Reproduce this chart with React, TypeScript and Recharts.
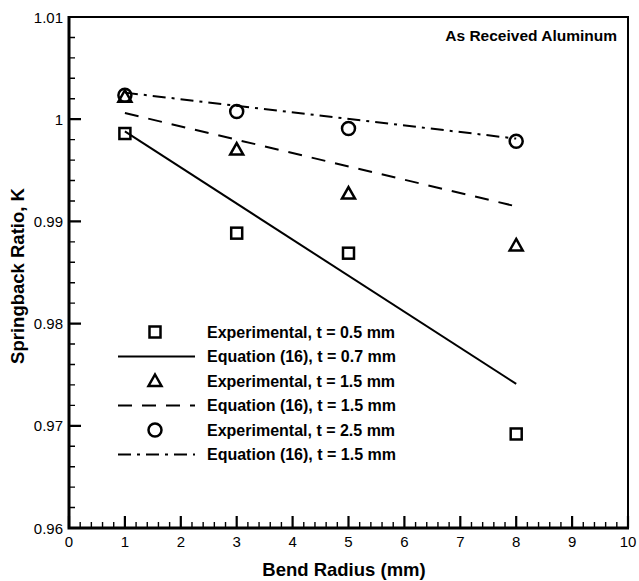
import React from 'react';
import { ComposedChart, Line, XAxis, YAxis, Customized } from 'recharts';

const radiiExp = [1, 3, 5, 8];
const expT05 = [0.9986, 0.98885, 0.98689, 0.9692];
const expT15 = [1.0022, 0.99703, 0.99272, 0.98765];
const expT25 = [1.00235, 1.00075, 0.99909, 0.99784];
const radiiEq = [1, 8];
const eqT07 = [0.9988, 0.9741];
const eqT15 = [1.0006, 0.99147];
const eqT15b = [1.0026, 0.9981];

const xTickLabels = ['0', '1', '2', '3', '4', '5', '6', '7', '8', '9', '10'];
const yTickLabels = ['0.96', '0.97', '0.98', '0.99', '1', '1.01'];
const yMajor = [0.96, 0.97, 0.98, 0.99, 1, 1.01];

const legendLabels = [
  'Experimental, t = 0.5 mm',
  'Equation (16), t = 0.7 mm',
  'Experimental, t = 1.5 mm',
  'Equation (16), t = 1.5 mm',
  'Experimental, t = 2.5 mm',
  'Equation (16), t = 1.5 mm',
];
const annotation = 'As Received Aluminum';
const xTitle = 'Bend Radius (mm)';
const yTitle = 'Springback Ratio, K';

const X_MIN = 0;
const X_MAX = 10;
const Y_MIN = 0.96;
const Y_MAX = 1.01;

const xTicks: number[] = [];
for (let i = 0; i <= 50; i++) xTicks.push(Math.round(i * 2) / 10);
const yTicks: number[] = [];
for (let i = 0; i <= 25; i++) yTicks.push(Math.round((0.96 + i * 0.002) * 1000) / 1000);

const pts = (xs: number[], ys: number[]) => xs.map((x, i) => ({ x, y: ys[i] }));

const FONT = '"Liberation Sans", Arial, Helvetica, sans-serif';
const M = 8;

const W = 639;
const H = 581;
const MARGIN = { top: 17, right: 11, bottom: 5, left: 15 };
const Y_AXIS_W = 54;
const X_AXIS_H = 48;
const PL = MARGIN.left + Y_AXIS_W;
const PR = W - MARGIN.right;
const PT = MARGIN.top;
const PB = H - MARGIN.bottom - X_AXIS_H;

const isXMajor = (v: number) => Math.abs(v - Math.round(v)) < 1e-6;
const yMajorIdx = (v: number) => yMajor.findIndex((m) => Math.abs(m - v) < 1e-6);

const XTick = (props: any) => {
  const { x, y, payload } = props;
  const v = payload.value;
  if (!isXMajor(v)) return <g />;
  const ay = y - M;
  return (
    <text x={x} y={ay + 19} textAnchor="middle" fontSize={15} fontFamily={FONT} fill="#000000">
      {xTickLabels[Math.round(v)]}
    </text>
  );
};

const YTick = (props: any) => {
  const { x, y, payload } = props;
  const idx = yMajorIdx(payload.value);
  if (idx < 0) return <g />;
  const ax = x + M;
  return (
    <text x={ax - 6} y={y + 5.5} textAnchor="end" fontSize={15} fontFamily={FONT} fill="#000000">
      {yTickLabels[idx]}
    </text>
  );
};

const SquareShape = (p: any) =>
  p.cx == null ? <g /> : (
    <rect x={p.cx - 5.5} y={p.cy - 5.5} width={11} height={11} fill="none" stroke="#000000" strokeWidth={2.5} />
  );
const TriShape = (p: any) =>
  p.cx == null ? <g /> : (
    <polygon
      points={`${p.cx},${p.cy - 6.5} ${p.cx + 6.5},${p.cy + 5} ${p.cx - 6.5},${p.cy + 5}`}
      fill="none"
      stroke="#000000"
      strokeWidth={2.5}
    />
  );
const CircShape = (p: any) =>
  p.cx == null ? <g /> : <circle cx={p.cx} cy={p.cy} r={6.5} fill="none" stroke="#000000" strokeWidth={2.5} />;

const DASH = '14 10';
const DASHDOT = '13 6 3 6';

const FrameAndTicks = () => {
  const sx = (v: number) => PL + ((v - X_MIN) / (X_MAX - X_MIN)) * (PR - PL);
  const sy = (v: number) => PB - ((v - Y_MIN) / (Y_MAX - Y_MIN)) * (PB - PT);
  let majorPath = '';
  let minorPath = '';
  xTicks.forEach((v) => {
    const px = sx(v);
    if (isXMajor(v)) majorPath += `M${px},${PB}V${PB - 12}`;
    else minorPath += `M${px},${PB}V${PB - 6}`;
  });
  yTicks.forEach((v) => {
    const py = sy(v);
    if (yMajorIdx(v) >= 0) majorPath += `M${PL},${py}H${PL + 12}`;
    else minorPath += `M${PL},${py}H${PL + 6}`;
  });
  return (
    <g>
      <path d={minorPath} stroke="#000000" strokeWidth={1.4} fill="none" />
      <path d={majorPath} stroke="#000000" strokeWidth={2.2} fill="none" />
      <rect x={PL} y={PT} width={PR - PL} height={PB - PT} fill="none" stroke="#000000" strokeWidth={2} />
      <path d={`M${PL},${PT - 1}V${PB}H${PR + 1}`} stroke="#000000" strokeWidth={3} fill="none" />
    </g>
  );
};

const Annotations = () => {
  const rowY = [332, 356.5, 381, 405.5, 430, 454.5];
  const mx = 155;
  const lx1 = 118;
  const lx2 = 195;
  const tx = 207;
  return (
    <g>
      <FrameAndTicks />
      <SquareShape cx={mx} cy={rowY[0]} />
      <line x1={lx1} x2={lx2} y1={rowY[1]} y2={rowY[1]} stroke="#000000" strokeWidth={2} />
      <TriShape cx={mx} cy={rowY[2]} />
      <line x1={lx1} x2={lx2} y1={rowY[3]} y2={rowY[3]} stroke="#000000" strokeWidth={2} strokeDasharray={DASH} />
      <CircShape cx={mx} cy={rowY[4]} />
      <line x1={lx1} x2={lx2} y1={rowY[5]} y2={rowY[5]} stroke="#000000" strokeWidth={2} strokeDasharray={DASHDOT} />
      {legendLabels.map((t, i) => (
        <text key={i} x={tx} y={rowY[i] + 5.5} fontSize={16} fontWeight="bold" fontFamily={FONT} fill="#000000">
          {t}
        </text>
      ))}
      <text x={617} y={41} textAnchor="end" fontSize={15.5} fontWeight="bold" fontFamily={FONT} fill="#000000">
        {annotation}
      </text>
      <text x={344} y={576} textAnchor="middle" fontSize={18.5} fontWeight="bold" fontFamily={FONT} fill="#000000">
        {xTitle}
      </text>
      <text x={24} y={276} transform="rotate(-90 24 276)" textAnchor="middle" fontSize={18.5} fontWeight="bold" fontFamily={FONT} fill="#000000">
        {yTitle}
      </text>
    </g>
  );
};

export default function App() {
  return (
    <div style={{ position: 'absolute', left: 0, top: 0, width: W, height: H, background: '#ffffff' }}>
      <ComposedChart width={W} height={H} margin={MARGIN}>
        <XAxis
          type="number"
          dataKey="x"
          domain={[X_MIN, X_MAX]}
          ticks={xTicks}
          interval={0}
          tickSize={0}
          tickMargin={M}
          tick={<XTick />}
          tickLine={false}
          axisLine={false}
          height={X_AXIS_H}
        />
        <YAxis
          type="number"
          domain={[Y_MIN, Y_MAX]}
          ticks={yTicks}
          interval={0}
          tickSize={0}
          tickMargin={M}
          tick={<YTick />}
          tickLine={false}
          axisLine={false}
          width={Y_AXIS_W}
        />
        <Line data={pts(radiiEq, eqT07)} dataKey="y" stroke="#000000" strokeWidth={2} dot={false} isAnimationActive={false} />
        <Line data={pts(radiiEq, eqT15)} dataKey="y" stroke="#000000" strokeWidth={2} strokeDasharray={DASH} dot={false} isAnimationActive={false} />
        <Line data={pts(radiiEq, eqT15b)} dataKey="y" stroke="#000000" strokeWidth={2} strokeDasharray={DASHDOT} dot={false} isAnimationActive={false} />
        <Line data={pts(radiiExp, expT05)} dataKey="y" stroke="none" strokeWidth={0} dot={<SquareShape />} activeDot={false} isAnimationActive={false} />
        <Line data={pts(radiiExp, expT15)} dataKey="y" stroke="none" strokeWidth={0} dot={<TriShape />} activeDot={false} isAnimationActive={false} />
        <Line data={pts(radiiExp, expT25)} dataKey="y" stroke="none" strokeWidth={0} dot={<CircShape />} activeDot={false} isAnimationActive={false} />
        <Customized component={<Annotations />} />
      </ComposedChart>
    </div>
  );
}
